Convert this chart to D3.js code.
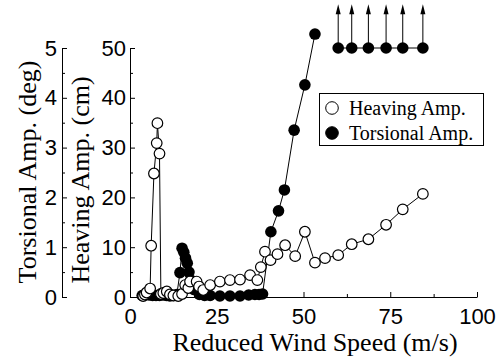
<!DOCTYPE html>
<html>
<head>
<meta charset="utf-8">
<script src="https://cdn.jsdelivr.net/npm/d3@7"></script>
<style>
  body { margin: 0; background: #fff; }
  svg { display: block; }
</style>
</head>
<body>
<div id="chart"></div>
<script>
// reduced wind speed (m/s) and heaving amplitude (cm), open circles
let heaveSpeed = [3.8, 4.3, 4.8, 5.8, 6.1, 6.9, 7.7, 7.9, 8.5, 8.9, 9.6, 10.6, 11.5, 12.5, 13.9, 15.0,
    15.9, 16.8, 17.3, 19.2, 19.9, 21.1, 23.1, 25.9, 28.8, 31.7, 34.6, 36.7, 37.7, 38.9, 40.5, 42.5,
    44.7, 47.6, 50.4, 53.3, 56.2, 60.0, 63.9, 68.7, 73.8, 78.6, 84.4];
let heaveAmp = [0.2, 0.5, 0.9, 1.7, 10.3, 24.8, 30.9, 34.9, 28.8, 0.6, 0.8, 1.1, 0.5, 0.3, 0.2, 0.6,
    2.4, 1.8, 3.1, 3.1, 2.1, 1.4, 2.4, 3.1, 3.4, 3.5, 4.4, 3.4, 6.0, 9.1, 7.4, 8.6,
    10.4, 8.2, 13.1, 6.9, 7.8, 8.4, 10.6, 11.6, 14.5, 17.6, 20.7];

// reduced wind speed (m/s) and torsional amplitude (deg), filled circles
let torsSpeed = [3.5, 4.5, 5.5, 6.5, 7.5, 8.5, 9.5, 10.5, 11.5, 12.5, 13.5, 14.4, 15.0, 15.5, 16.0,
    16.5, 17.0, 17.5, 18.5, 20.0, 21.5, 23.1, 25.9, 28.8, 31.7, 34.2, 36.0, 37.2, 38.2,
    40.6, 42.8, 44.5, 47.3, 50.4, 53.3];
let torsAmp = [0.03, 0.05, 0.04, 0.03, 0.03, 0.03, 0.04, 0.03, 0.02, 0.03, 0.05, 0.49, 0.98, 0.9, 0.78,
    0.68, 0.5, 0.34, 0.15, 0.05, 0.03, 0.03, 0.02, 0.02, 0.02, 0.04, 0.05, 0.05, 0.06,
    1.31, 1.73, 2.15, 3.35, 4.26, 5.28];

// little mode-shape sketch in the top corner (wind speed positions)
let modeNodes = [60.0, 63.9, 68.7, 73.8, 78.6, 84.4];

let xTicks = [0, 25, 50, 75, 100];
let heaveTicks = [0, 10, 20, 30, 40, 50];
let torsTicks = [0, 1, 2, 3, 4, 5];

let legendItems = ["Heaving Amp.", "Torsional Amp."];

const width = 499, height = 361;
const serif = "'Liberation Serif', 'Times New Roman', serif";
const sans = "'Liberation Sans', Arial, sans-serif";

let heave = heaveSpeed.map((s, i) => ({s: s, v: heaveAmp[i]}));
let tors = torsSpeed.map((s, i) => ({s: s, v: torsAmp[i]}));

const svg = d3.select("#chart").append("svg")
    .attr("width", width)
    .attr("height", height);

let x = d3.scaleLinear().domain([0, 100]).range([130, 477]);
let yH = d3.scaleLinear().domain([0, 50]).range([297, 48]);
let yT = d3.scaleLinear().domain([0, 5]).range([297, 48]);

function styleAxis(g, size) {
    g.selectAll("text").attr("font-family", sans).attr("font-size", size).attr("fill", "#000");
    g.selectAll("line").attr("stroke", "#000");
    g.select(".domain").attr("stroke", "#000");
}

// bottom axis, ticks point inward
let gx = svg.append("g").attr("transform", "translate(0,297)");
gx.append("g").call(d3.axisBottom(x).tickValues(d3.range(12.5, 100, 25)).tickSize(-3).tickFormat(""))
    .call(g => g.select(".domain").remove())
    .call(g => g.selectAll("line").attr("stroke", "#000"));
gx.append("g").call(d3.axisBottom(x).tickValues(xTicks).tickSize(-5).tickSizeOuter(0).tickPadding(11))
    .call(g => styleAxis(g, 22));

// heaving axis
let gh = svg.append("g").attr("transform", "translate(130,0)");
gh.append("g").call(d3.axisLeft(yH).tickValues(d3.range(5, 50, 10)).tickSize(-3).tickFormat(""))
    .call(g => g.select(".domain").remove())
    .call(g => g.selectAll("line").attr("stroke", "#000"));
gh.append("g").call(d3.axisLeft(yH).tickValues(heaveTicks).tickSize(-5).tickSizeOuter(0).tickPadding(4))
    .call(g => styleAxis(g, 22));

// torsional axis
let gt = svg.append("g").attr("transform", "translate(62,0)");
gt.append("g").call(d3.axisLeft(yT).tickValues(d3.range(0.5, 5, 1)).tickSize(-3).tickFormat(""))
    .call(g => g.select(".domain").remove())
    .call(g => g.selectAll("line").attr("stroke", "#000"));
gt.append("g").call(d3.axisLeft(yT).tickValues(torsTicks).tickFormat(d3.format("d"))
        .tickSize(-5).tickSizeOuter(0).tickPadding(5))
    .call(g => styleAxis(g, 22));

// axis titles
svg.append("text")
    .attr("x", 315).attr("y", 351)
    .attr("text-anchor", "middle")
    .attr("font-family", serif).attr("font-size", 26)
    .text("Reduced Wind Speed (m/s)");

svg.append("text")
    .attr("transform", "translate(36,172) rotate(-90)")
    .attr("text-anchor", "middle")
    .attr("font-family", serif).attr("font-size", 26)
    .text("Torsional Amp. (deg)");

svg.append("text")
    .attr("transform", "translate(89,180) rotate(-90)")
    .attr("text-anchor", "middle")
    .attr("font-family", serif).attr("font-size", 26)
    .text("Heaving Amp. (cm)");

// torsional series (filled), drawn under the heaving series
let lineT = d3.line().x(d => x(d.s)).y(d => yT(d.v));
svg.append("path").datum(tors)
    .attr("d", lineT).attr("fill", "none").attr("stroke", "#000").attr("stroke-width", 1);
svg.append("g").selectAll("circle").data(tors).join("circle")
    .attr("cx", d => x(d.s)).attr("cy", d => yT(d.v))
    .attr("r", 5.8).attr("fill", "#000");

// heaving series (open)
let lineH = d3.line().x(d => x(d.s)).y(d => yH(d.v));
svg.append("path").datum(heave)
    .attr("d", lineH).attr("fill", "none").attr("stroke", "#000").attr("stroke-width", 1);
svg.append("g").selectAll("circle").data(heave).join("circle")
    .attr("cx", d => x(d.s)).attr("cy", d => yH(d.v))
    .attr("r", 5.3).attr("fill", "#fff").attr("stroke", "#000").attr("stroke-width", 1.2);

// mode sketch: nodes on a line with upward arrows
let sketch = svg.append("g");
sketch.append("line")
    .attr("x1", x(modeNodes[0])).attr("x2", x(modeNodes[modeNodes.length - 1]))
    .attr("y1", yH(50)).attr("y2", yH(50))
    .attr("stroke", "#000").attr("stroke-width", 1);
sketch.selectAll(".shaft").data(modeNodes).join("line")
    .attr("x1", d => x(d)).attr("x2", d => x(d))
    .attr("y1", yH(50)).attr("y2", yH(57.2))
    .attr("stroke", "#000").attr("stroke-width", 1);
sketch.selectAll(".head").data(modeNodes).join("path")
    .attr("d", d => `M${x(d)},${yH(58.8)}L${x(d) - 2.5},${yH(56.8)}L${x(d) + 2.5},${yH(56.8)}Z`)
    .attr("fill", "#000");
sketch.selectAll("circle").data(modeNodes).join("circle")
    .attr("cx", d => x(d)).attr("cy", yH(50))
    .attr("r", 5.8).attr("fill", "#000");

// legend
let legend = svg.append("g");
legend.append("rect")
    .attr("x", 319.5).attr("y", 93.5).attr("width", 164).attr("height", 52)
    .attr("fill", "#fff").attr("stroke", "#000").attr("stroke-width", 1);
legend.selectAll("circle").data(legendItems).join("circle")
    .attr("cx", 332).attr("cy", (d, i) => 108 + i * 25)
    .attr("r", 6.3)
    .attr("fill", (d, i) => i ? "#000" : "#fff")
    .attr("stroke", "#000").attr("stroke-width", 1);
legend.selectAll("text").data(legendItems).join("text")
    .attr("x", 349).attr("y", (d, i) => 115 + i * 25)
    .attr("font-family", serif).attr("font-size", 20)
    .text(d => d);
</script>
</body>
</html>
